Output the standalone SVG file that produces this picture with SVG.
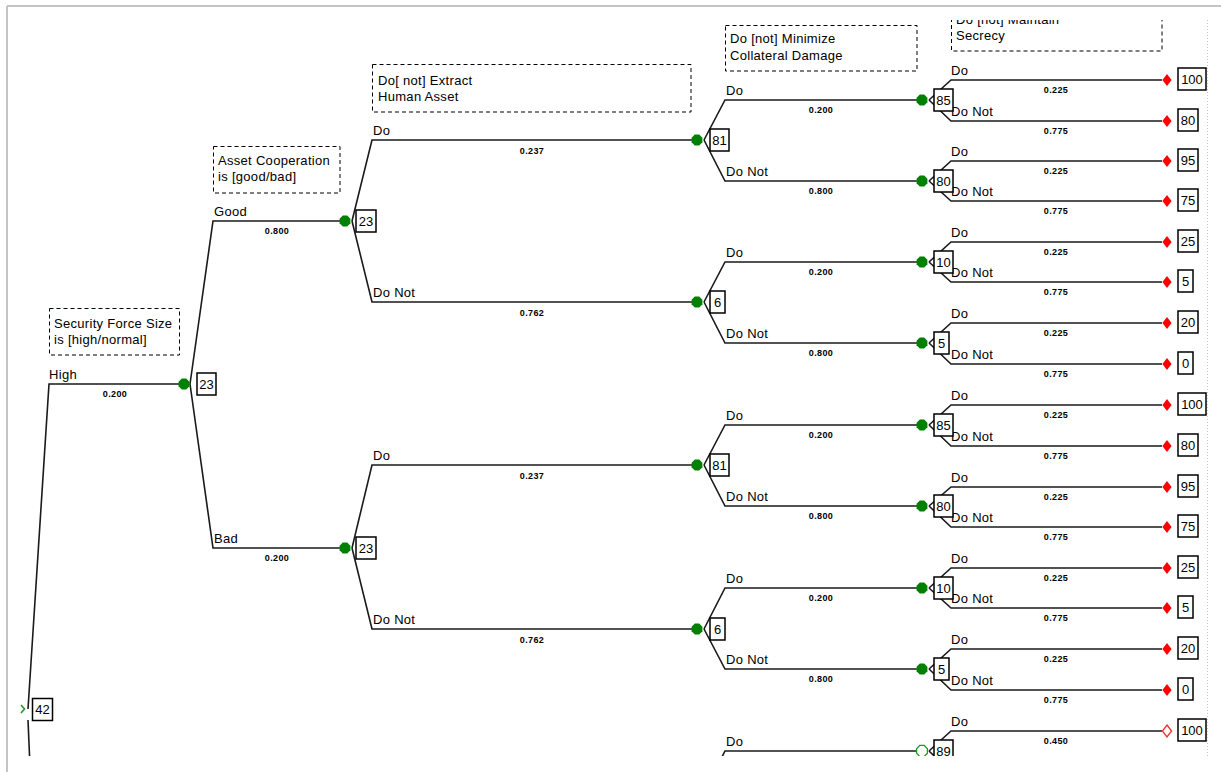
<svg xmlns="http://www.w3.org/2000/svg" width="1221" height="772" viewBox="0 0 1221 772">
  <style>
    .br { fill: none; stroke: #1a1a1a; stroke-width: 1.6; }
    .hdr { fill: none; stroke: #000; stroke-width: 1; stroke-dasharray: 4 3; }
    .vb { fill: #fff; stroke: #000; stroke-width: 1.5; }
    .t { font-family: "Liberation Sans", Arial, sans-serif; font-size: 13px; letter-spacing: 0.3px; fill: #000; }
    .v { font-family: "Liberation Sans", Arial, sans-serif; font-size: 13px; fill: #000; text-anchor: middle; }
    .p { font-family: "Liberation Sans", Arial, sans-serif; font-size: 9px; font-weight: bold; letter-spacing: 0.4px; fill: #000; text-anchor: middle; }
    .chance { fill: #008000; }
    .chance-open { fill: #fff; stroke: #1f9a1f; stroke-width: 1.3; }
    .end { fill: #ff0000; }
    .end-open { fill: #fff; stroke: #ff2a2a; stroke-width: 1.3; }
  </style>
  <defs>
    <polygon id="oct" points="5.4,2.2 2.2,5.6 -2.2,5.6 -5.4,2.2 -5.4,-2.2 -2.2,-5.6 2.2,-5.6 5.4,-2.2"/>
    <polygon id="dia" points="0,-6 4.6,0 0,6 -4.6,0"/>
    <clipPath id="view"><rect x="8" y="20" width="1200" height="736"/></clipPath>
  </defs>

  <rect width="1221" height="772" fill="#fff"/>
  <!-- window frame -->
  <line x1="7" y1="6" x2="1221" y2="6" stroke="#c4c4c4" stroke-width="2"/>
  <line x1="7" y1="6" x2="7" y2="772" stroke="#c4c4c4" stroke-width="2"/>
  <line x1="1207.5" y1="20" x2="1207.5" y2="757" stroke="#c8c8c8" stroke-width="1" stroke-dasharray="1 2"/>

  <g clip-path="url(#view)">
    <!-- stage headers -->
    <g id="headers">
      <rect class="hdr" x="49.5" y="308.5" width="130" height="46.5"/>
      <text class="t" x="54" y="327.5">Security Force Size</text>
      <text class="t" x="54" y="343.5">is [high/normal]</text>

      <rect class="hdr" x="213.5" y="146.5" width="126.5" height="46.5"/>
      <text class="t" x="218" y="164.5">Asset Cooperation</text>
      <text class="t" x="218" y="181">is [good/bad]</text>

      <rect class="hdr" x="372.5" y="64.5" width="318.5" height="47.5"/>
      <text class="t" x="378" y="84.5">Do[ not] Extract</text>
      <text class="t" x="378" y="100.5">Human Asset</text>

      <rect class="hdr" x="725.5" y="25.5" width="191.5" height="45.5"/>
      <text class="t" x="730" y="43">Do [not] Minimize</text>
      <text class="t" x="730" y="60">Collateral Damage</text>

      <rect class="hdr" x="951.5" y="4" width="210.5" height="47"/>
      <text class="t" x="956" y="23.5">Do [not] Maintain</text>
      <text class="t" x="956" y="39.5">Secrecy</text>
    </g>

    <!-- branches -->
    <g id="connectors">
      <!-- root -->
      <polyline class="br" points="28,709 49,384 180,384"/>
      <polyline class="br" points="28,720 31,790"/>
      <!-- level 1 -->
      <polyline class="br" points="190,384 213,221 340,221"/>
      <polyline class="br" points="190,384 213,548 340,548"/>
      <!-- level 2 -->
      <polyline class="br" points="352,221 372,140 692,140"/>
      <polyline class="br" points="352,221 372,302 692,302"/>
      <polyline class="br" points="352,548 372,465 692,465"/>
      <polyline class="br" points="352,548 372,629 692,629"/>
      <!-- level 3 -->
      <polyline class="br" points="704,140 725,100 917,100"/>
      <polyline class="br" points="704,140 725,181 917,181"/>
      <polyline class="br" points="704,302 725,262 917,262"/>
      <polyline class="br" points="704,302 725,343 917,343"/>
      <polyline class="br" points="704,465 725,425 917,425"/>
      <polyline class="br" points="704,465 725,506 917,506"/>
      <polyline class="br" points="704,629 725,588 917,588"/>
      <polyline class="br" points="704,629 725,669 917,669"/>
      <polyline class="br" points="704,792 725,751 917,751"/>
      <!-- level 4 -->
      <polyline class="br" points="929,100 951,80 1162,80"/>
      <polyline class="br" points="929,100 951,121 1162,121"/>
      <polyline class="br" points="929,181 951,161 1162,161"/>
      <polyline class="br" points="929,181 951,201 1162,201"/>
      <polyline class="br" points="929,262 951,242 1162,242"/>
      <polyline class="br" points="929,262 951,282 1162,282"/>
      <polyline class="br" points="929,343 951,323 1162,323"/>
      <polyline class="br" points="929,343 951,364 1162,364"/>
      <polyline class="br" points="929,425 951,405 1162,405"/>
      <polyline class="br" points="929,425 951,446 1162,446"/>
      <polyline class="br" points="929,506 951,487 1162,487"/>
      <polyline class="br" points="929,506 951,527 1162,527"/>
      <polyline class="br" points="929,588 951,568 1162,568"/>
      <polyline class="br" points="929,588 951,608 1162,608"/>
      <polyline class="br" points="929,669 951,649 1162,649"/>
      <polyline class="br" points="929,669 951,690 1162,690"/>
      <polyline class="br" points="929,751 951,731 1162,731"/>
      <polyline class="br" points="929,751 951,772 1162,772"/>
    </g>

    <!-- branch names and probabilities -->
    <g id="branch-labels">
      <text class="t" x="49" y="379">High</text>
      <text class="p" x="115" y="397">0.200</text>

      <text class="t" x="214" y="216">Good</text>
      <text class="p" x="277" y="234">0.800</text>
      <text class="t" x="214" y="543">Bad</text>
      <text class="p" x="277" y="561">0.200</text>

      <text class="t" x="373" y="135">Do</text>
      <text class="p" x="532" y="154">0.237</text>
      <text class="t" x="373" y="297">Do Not</text>
      <text class="p" x="532" y="316">0.762</text>
      <text class="t" x="373" y="460">Do</text>
      <text class="p" x="532" y="479">0.237</text>
      <text class="t" x="373" y="624">Do Not</text>
      <text class="p" x="532" y="643">0.762</text>

      <text class="t" x="726" y="95">Do</text>
      <text class="p" x="821" y="113">0.200</text>
      <text class="t" x="726" y="176">Do Not</text>
      <text class="p" x="821" y="194">0.800</text>
      <text class="t" x="726" y="257">Do</text>
      <text class="p" x="821" y="275">0.200</text>
      <text class="t" x="726" y="338">Do Not</text>
      <text class="p" x="821" y="356">0.800</text>
      <text class="t" x="726" y="420">Do</text>
      <text class="p" x="821" y="438">0.200</text>
      <text class="t" x="726" y="501">Do Not</text>
      <text class="p" x="821" y="519">0.800</text>
      <text class="t" x="726" y="583">Do</text>
      <text class="p" x="821" y="601">0.200</text>
      <text class="t" x="726" y="664">Do Not</text>
      <text class="p" x="821" y="682">0.800</text>
      <text class="t" x="726" y="746">Do</text>

      <text class="t" x="951" y="75">Do</text>
      <text class="p" x="1056" y="93">0.225</text>
      <text class="t" x="951" y="116">Do Not</text>
      <text class="p" x="1056" y="134">0.775</text>
      <text class="t" x="951" y="156">Do</text>
      <text class="p" x="1056" y="174">0.225</text>
      <text class="t" x="951" y="196">Do Not</text>
      <text class="p" x="1056" y="214">0.775</text>
      <text class="t" x="951" y="237">Do</text>
      <text class="p" x="1056" y="255">0.225</text>
      <text class="t" x="951" y="277">Do Not</text>
      <text class="p" x="1056" y="295">0.775</text>
      <text class="t" x="951" y="318">Do</text>
      <text class="p" x="1056" y="336">0.225</text>
      <text class="t" x="951" y="359">Do Not</text>
      <text class="p" x="1056" y="377">0.775</text>
      <text class="t" x="951" y="400">Do</text>
      <text class="p" x="1056" y="418">0.225</text>
      <text class="t" x="951" y="441">Do Not</text>
      <text class="p" x="1056" y="459">0.775</text>
      <text class="t" x="951" y="482">Do</text>
      <text class="p" x="1056" y="500">0.225</text>
      <text class="t" x="951" y="522">Do Not</text>
      <text class="p" x="1056" y="540">0.775</text>
      <text class="t" x="951" y="563">Do</text>
      <text class="p" x="1056" y="581">0.225</text>
      <text class="t" x="951" y="603">Do Not</text>
      <text class="p" x="1056" y="621">0.775</text>
      <text class="t" x="951" y="644">Do</text>
      <text class="p" x="1056" y="662">0.225</text>
      <text class="t" x="951" y="685">Do Not</text>
      <text class="p" x="1056" y="703">0.775</text>
      <text class="t" x="951" y="726">Do</text>
      <text class="p" x="1056" y="744">0.450</text>
      <text class="t" x="951" y="767">Do Not</text>
    </g>

    <!-- root -->
    <g id="root">
      <polyline points="21,705 24.5,709 21,713" fill="none" stroke="#1f9a1f" stroke-width="1.6"/>
      <rect class="vb" x="32.5" y="698.5" width="20" height="22"/>
      <text class="v" x="42.5" y="714">42</text>
    </g>

    <!-- chance nodes -->
    <g id="n-size-high">
      <use href="#oct" class="chance" x="184" y="384"/>
      <rect class="vb" x="197" y="373" width="19" height="22"/>
      <text class="v" x="206.5" y="389">23</text>
    </g>
    <g id="n-coop-good">
      <use href="#oct" class="chance" x="345" y="221"/>
      <rect class="vb" x="356" y="210" width="20" height="22"/>
      <text class="v" x="366" y="226">23</text>
    </g>
    <g id="n-coop-bad">
      <use href="#oct" class="chance" x="345" y="548"/>
      <rect class="vb" x="356" y="537" width="20" height="22"/>
      <text class="v" x="366" y="553">23</text>
    </g>

    <g id="n-extract-1">
      <use href="#oct" class="chance" x="697" y="140"/>
      <rect class="vb" x="710" y="129" width="19" height="22"/>
      <text class="v" x="719.5" y="145">81</text>
    </g>
    <g id="n-extract-2">
      <use href="#oct" class="chance" x="697" y="302"/>
      <rect class="vb" x="710" y="291" width="15" height="22"/>
      <text class="v" x="717.5" y="307">6</text>
    </g>
    <g id="n-extract-3">
      <use href="#oct" class="chance" x="697" y="465"/>
      <rect class="vb" x="710" y="454" width="19" height="22"/>
      <text class="v" x="719.5" y="470">81</text>
    </g>
    <g id="n-extract-4">
      <use href="#oct" class="chance" x="697" y="629"/>
      <rect class="vb" x="710" y="618" width="15" height="22"/>
      <text class="v" x="717.5" y="634">6</text>
    </g>

    <g id="n-damage-1">
      <use href="#oct" class="chance" x="922" y="100"/>
      <rect class="vb" x="934" y="89" width="19" height="22"/>
      <text class="v" x="943.5" y="105">85</text>
    </g>
    <g id="n-damage-2">
      <use href="#oct" class="chance" x="922" y="181"/>
      <rect class="vb" x="934" y="170" width="19" height="22"/>
      <text class="v" x="943.5" y="186">80</text>
    </g>
    <g id="n-damage-3">
      <use href="#oct" class="chance" x="922" y="262"/>
      <rect class="vb" x="934" y="251" width="19" height="22"/>
      <text class="v" x="943.5" y="267">10</text>
    </g>
    <g id="n-damage-4">
      <use href="#oct" class="chance" x="922" y="343"/>
      <rect class="vb" x="934" y="332" width="15" height="22"/>
      <text class="v" x="941.5" y="348">5</text>
    </g>
    <g id="n-damage-5">
      <use href="#oct" class="chance" x="922" y="425"/>
      <rect class="vb" x="934" y="414" width="19" height="22"/>
      <text class="v" x="943.5" y="430">85</text>
    </g>
    <g id="n-damage-6">
      <use href="#oct" class="chance" x="922" y="506"/>
      <rect class="vb" x="934" y="495" width="19" height="22"/>
      <text class="v" x="943.5" y="511">80</text>
    </g>
    <g id="n-damage-7">
      <use href="#oct" class="chance" x="922" y="588"/>
      <rect class="vb" x="934" y="577" width="19" height="22"/>
      <text class="v" x="943.5" y="593">10</text>
    </g>
    <g id="n-damage-8">
      <use href="#oct" class="chance" x="922" y="669"/>
      <rect class="vb" x="934" y="658" width="15" height="22"/>
      <text class="v" x="941.5" y="674">5</text>
    </g>
    <g id="n-damage-9">
      <use href="#oct" class="chance-open" x="922" y="751"/>
      <rect class="vb" x="934" y="740" width="19" height="22"/>
      <text class="v" x="943.5" y="756">89</text>
    </g>

    <!-- payoffs -->
    <g id="t01"><use href="#dia" class="end" x="1167" y="80"/><rect class="vb" x="1178" y="68" width="28" height="22"/><text class="v" x="1192" y="84">100</text></g>
    <g id="t02"><use href="#dia" class="end" x="1167" y="121"/><rect class="vb" x="1178" y="109" width="20" height="22"/><text class="v" x="1188" y="125">80</text></g>
    <g id="t03"><use href="#dia" class="end" x="1167" y="161"/><rect class="vb" x="1178" y="149" width="20" height="22"/><text class="v" x="1188" y="165">95</text></g>
    <g id="t04"><use href="#dia" class="end" x="1167" y="201"/><rect class="vb" x="1178" y="189" width="20" height="22"/><text class="v" x="1188" y="205">75</text></g>
    <g id="t05"><use href="#dia" class="end" x="1167" y="242"/><rect class="vb" x="1178" y="230" width="20" height="22"/><text class="v" x="1188" y="246">25</text></g>
    <g id="t06"><use href="#dia" class="end" x="1167" y="282"/><rect class="vb" x="1178" y="270" width="15" height="22"/><text class="v" x="1185.5" y="286">5</text></g>
    <g id="t07"><use href="#dia" class="end" x="1167" y="323"/><rect class="vb" x="1178" y="311" width="20" height="22"/><text class="v" x="1188" y="327">20</text></g>
    <g id="t08"><use href="#dia" class="end" x="1167" y="364"/><rect class="vb" x="1178" y="352" width="15" height="22"/><text class="v" x="1185.5" y="368">0</text></g>
    <g id="t09"><use href="#dia" class="end" x="1167" y="405"/><rect class="vb" x="1178" y="393" width="28" height="22"/><text class="v" x="1192" y="409">100</text></g>
    <g id="t10"><use href="#dia" class="end" x="1167" y="446"/><rect class="vb" x="1178" y="434" width="20" height="22"/><text class="v" x="1188" y="450">80</text></g>
    <g id="t11"><use href="#dia" class="end" x="1167" y="487"/><rect class="vb" x="1178" y="475" width="20" height="22"/><text class="v" x="1188" y="491">95</text></g>
    <g id="t12"><use href="#dia" class="end" x="1167" y="527"/><rect class="vb" x="1178" y="515" width="20" height="22"/><text class="v" x="1188" y="531">75</text></g>
    <g id="t13"><use href="#dia" class="end" x="1167" y="568"/><rect class="vb" x="1178" y="556" width="20" height="22"/><text class="v" x="1188" y="572">25</text></g>
    <g id="t14"><use href="#dia" class="end" x="1167" y="608"/><rect class="vb" x="1178" y="596" width="15" height="22"/><text class="v" x="1185.5" y="612">5</text></g>
    <g id="t15"><use href="#dia" class="end" x="1167" y="649"/><rect class="vb" x="1178" y="637" width="20" height="22"/><text class="v" x="1188" y="653">20</text></g>
    <g id="t16"><use href="#dia" class="end" x="1167" y="690"/><rect class="vb" x="1178" y="678" width="15" height="22"/><text class="v" x="1185.5" y="694">0</text></g>
    <g id="t17"><use href="#dia" class="end-open" x="1167" y="731"/><rect class="vb" x="1178" y="719" width="28" height="22"/><text class="v" x="1192" y="735">100</text></g>
  </g>
</svg>
